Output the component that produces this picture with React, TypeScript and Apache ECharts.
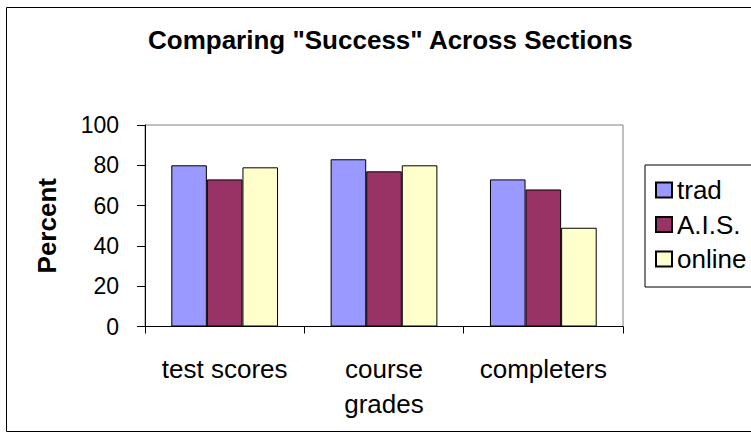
import React, { useEffect, useRef } from "react";
import * as echarts from "echarts";

const categories = ["test scores", "course\ngrades", "completers"];
const trad = [80, 83, 73];
const ais = [73, 77, 68];
const online = [79, 80, 49];
const seriesNames = ["trad", "A.I.S.", "online"];
const colors = ["#9999FF", "#993366", "#FFFFCC"];
const yTicks = [0, 20, 40, 60, 80, 100];

export default function App() {
  const ref = useRef<HTMLDivElement>(null);
  useEffect(() => {
    if (!ref.current) return;
    const chart = echarts.init(ref.current, null, { renderer: "svg" });
    const font = "'Liberation Sans', Arial, sans-serif";
    const data = [trad, ais, online];
    chart.setOption({
      animation: false,
      backgroundColor: "#ffffff",
      title: {
        text: 'Comparing "Success" Across Sections',
        left: 143,
        top: 22,
        textStyle: { fontFamily: font, fontSize: 26, fontWeight: "bold", color: "#000" },
      },
      graphic: [
        {
          type: "rect",
          shape: { x: 6.5, y: 7.5, width: 800, height: 424 },
          style: { fill: "none", stroke: "#000", lineWidth: 1 },
          silent: true,
          z: 100,
        },
      ],
      legend: {
        orient: "vertical",
        left: 645,
        top: 165,
        padding: [12, 30, 15, 10],
        itemGap: 8.5,
        itemWidth: 16,
        itemHeight: 15,
        icon: "rect",
        borderColor: "#000",
        borderWidth: 1,
        backgroundColor: "#fff",
        data: seriesNames,
        textStyle: { fontFamily: font, fontSize: 26, color: "#000" },
      },
      grid: {
        left: 145,
        right: 128,
        top: 125,
        bottom: 113.5,
        show: true,
        borderColor: "#808080",
        borderWidth: 1,
        backgroundColor: "#fff",
      },
      xAxis: {
        type: "category",
        data: categories,
        axisLine: { show: true, lineStyle: { color: "#000", width: 1 } },
        axisTick: { show: true, length: 7, lineStyle: { color: "#000" } },
        axisLabel: {
          interval: 0,
          hideOverlap: false,
          fontFamily: font,
          fontSize: 26,
          color: "#000",
          margin: 25,
          lineHeight: 35,
        },
      },
      yAxis: {
        type: "value",
        min: yTicks[0],
        max: yTicks[yTicks.length - 1],
        interval: 20,
        name: "Percent",
        nameLocation: "middle",
        nameGap: 85,
        nameRotate: 90,
        nameTextStyle: { fontFamily: font, fontSize: 26, fontWeight: "bold", color: "#000" },
        axisLine: { show: true, lineStyle: { color: "#000", width: 1 } },
        axisTick: { show: true, length: 8, lineStyle: { color: "#000" } },
        splitLine: { show: false },
        axisLabel: { fontFamily: font, fontSize: 23, color: "#000", margin: 26 },
      },
      series: seriesNames.map((name, i) => ({
        name,
        type: "bar",
        data: data[i],
        barGap: "0%",
        barCategoryGap: "33%",
        itemStyle: { color: colors[i], borderColor: "#000", borderWidth: 1 },
      })),
    });
    return () => chart.dispose();
  }, []);
  return (
    <div
      ref={ref}
      style={{ position: "fixed", left: 0, top: 0, width: 751, height: 440 }}
    />
  );
}
